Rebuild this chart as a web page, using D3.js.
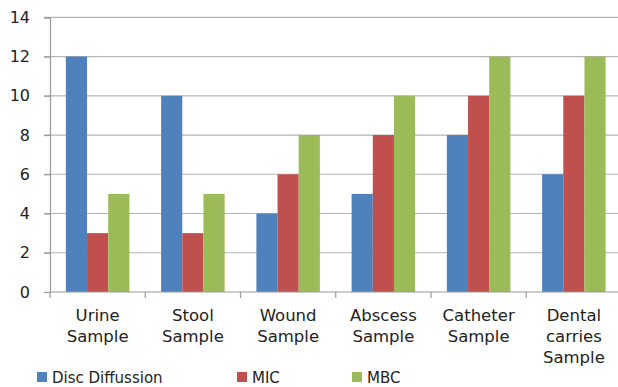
<!DOCTYPE html>
<html><head><meta charset="utf-8">
<script src="https://cdn.jsdelivr.net/npm/d3@7"></script>
<style>body{margin:0;background:#fff}svg{display:block}text{font-family:"DejaVu Sans",sans-serif;fill:#222}</style>
</head><body>
<script>
const categories = [["Urine","Sample"],["Stool","Sample"],["Wound","Sample"],["Abscess","Sample"],["Catheter","Sample"],["Dental","carries","Sample"]];
const seriesNames = ["Disc Diffussion","MIC","MBC"];
const discDiffusion = [12,10,4,5,8,6];
const mic = [3,3,6,8,10,10];
const mbc = [5,5,8,10,12,12];
const yTicks = [0,2,4,6,8,10,12,14];
const colors = ["#4F81BD","#C0504D","#9BBB59"];
const values = [discDiffusion, mic, mbc];

(function(){
const W = 618, H = 387;
const svg = d3.select("body").append("svg").attr("width", W).attr("height", H);
const mLeft = 50, mRight = 621.5, mTop = 17.3, mBottom = 292;
const catKeys = categories.map((c,i)=>i);
const x0 = d3.scaleBand().domain(catKeys).range([mLeft, mRight]).padding(0);
const x1 = d3.scaleBand().domain([0,1,2]).range([0, x0.bandwidth()]).paddingInner(0).paddingOuter(0.75);
const y = d3.scaleLinear().domain([0,14]).range([mBottom, mTop]);

svg.append("g").selectAll("line").data(yTicks.filter(d=>d>0)).join("line")
  .attr("x1", mLeft-6).attr("x2", mRight).attr("y1", d=>y(d)).attr("y2", d=>y(d))
  .attr("stroke", "#b5b5b5").attr("stroke-width", 1.2);

const yAxis = d3.axisLeft(y).tickValues(yTicks).tickSize(6).tickPadding(14).tickFormat(d3.format("d"));
const gy = svg.append("g").attr("transform", `translate(${mLeft},0)`).call(yAxis);
gy.select(".domain").attr("stroke", "#9a9a9a").attr("stroke-width", 1.2);
gy.selectAll(".tick line").attr("stroke", "#9a9a9a").attr("stroke-width", 1.2);
gy.selectAll("text").attr("font-size", "16px").attr("font-family", "DejaVu Sans").attr("fill", "#222");

const groups = svg.append("g").selectAll("g").data(catKeys).join("g")
  .attr("transform", i => `translate(${x0(i)},0)`);
groups.selectAll("rect").data(i => values.map((s,k)=>({k, v:s[i]}))).join("rect")
  .attr("x", d => x1(d.k)).attr("width", x1.bandwidth())
  .attr("y", d => y(d.v)).attr("height", d => y(0) - y(d.v))
  .attr("fill", d => colors[d.k]);

const xa = svg.append("g");
xa.append("line").attr("x1", mLeft).attr("x2", mRight).attr("y1", mBottom).attr("y2", mBottom)
  .attr("stroke", "#9a9a9a").attr("stroke-width", 1.2);
const bounds = catKeys.map(i => x0(i)).concat([mRight]);
xa.selectAll("line.t").data(bounds).join("line").attr("class","t")
  .attr("x1", d=>d).attr("x2", d=>d).attr("y1", mBottom).attr("y2", mBottom+6)
  .attr("stroke", "#9a9a9a").attr("stroke-width", 1.2);

const lbl = svg.append("g").selectAll("text").data(catKeys).join("text")
  .attr("x", i => x0(i) + x0.bandwidth()/2).attr("y", 320.5)
  .attr("text-anchor", "middle").attr("font-size", "16.5px");
lbl.selectAll("tspan").data(i => categories[i].map((t,j)=>({t,j,i}))).join("tspan")
  .attr("x", d => x0(d.i) + x0.bandwidth()/2).attr("dy", d => d.j===0 ? 0 : 21).text(d => d.t);

const legX = [37, 237, 352];
const leg = svg.append("g").selectAll("g").data(seriesNames).join("g")
  .attr("transform", (d,i)=>`translate(${legX[i]},372)`);
leg.append("rect").attr("width", 10).attr("height", 10).attr("fill", (d,i)=>colors[i]);
leg.append("text").attr("x", 15).attr("y", 10.5).attr("font-size", "15px").text(d=>d);
})();
</script>
</body></html>
